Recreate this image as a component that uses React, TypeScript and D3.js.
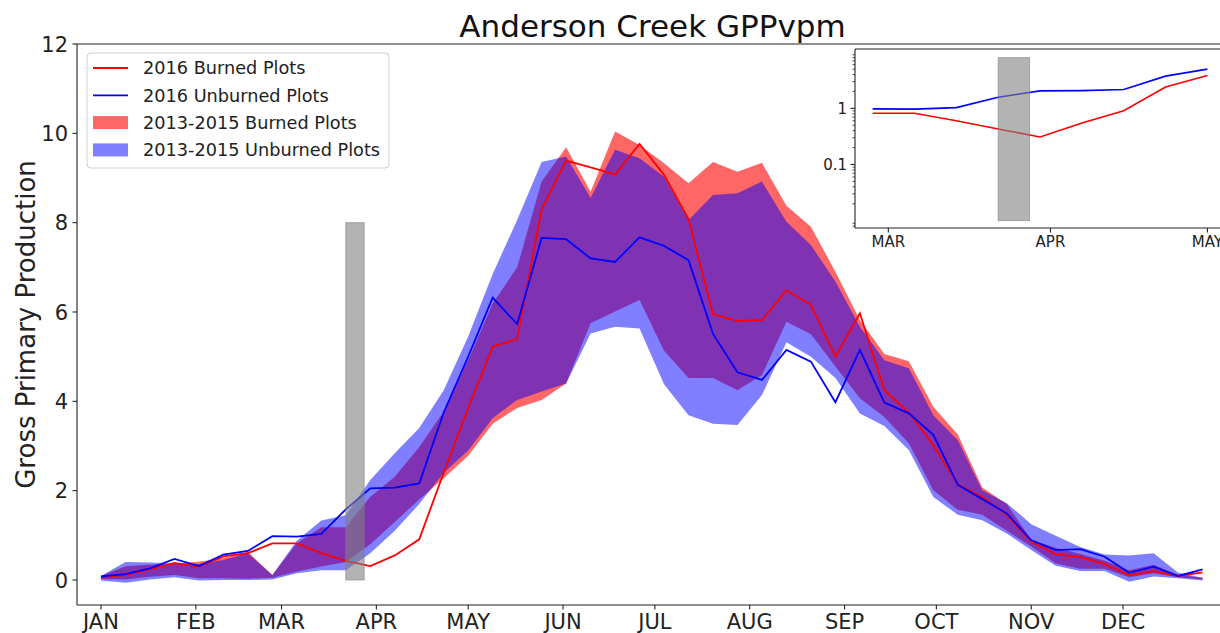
import React from "react";
import * as d3 from "d3";

// ---- data (8-day composites, day of year) ----
const DOY = [1, 9, 17, 25, 33, 41, 49, 57, 65, 73, 81, 89, 97, 105, 113, 121, 129, 137, 145, 153, 161, 169, 177, 185, 193, 201, 209, 217, 225, 233, 241, 249, 257, 265, 273, 281, 289, 297, 305, 313, 321, 329, 337, 345, 353, 361];

const BURNED_2016 = [
  0.06, 0.11, 0.24, 0.38, 0.30, 0.53, 0.60, 0.82, 0.82, 0.60,
  0.43, 0.31, 0.55, 0.91, 2.40, 3.85, 5.22, 5.40, 8.30, 9.39,
  9.24, 9.08, 9.76, 9.07, 8.08, 5.95, 5.80, 5.82, 6.49, 6.16,
  5.00, 5.97, 4.25, 3.75, 3.02, 2.14, 1.86, 1.46, 0.86, 0.58,
  0.51, 0.36, 0.11, 0.20, 0.09, 0.17,
];
const UNBURNED_2016 = [
  0.08, 0.13, 0.26, 0.47, 0.31, 0.57, 0.65, 0.98, 0.97, 1.03,
  1.58, 2.05, 2.07, 2.16, 3.75, 5.00, 6.32, 5.73, 7.66, 7.63,
  7.20, 7.12, 7.67, 7.48, 7.16, 5.51, 4.65, 4.48, 5.15, 4.89,
  3.98, 5.15, 3.97, 3.73, 3.25, 2.13, 1.81, 1.49, 0.89, 0.67,
  0.69, 0.52, 0.16, 0.30, 0.09, 0.24,
];
const BURNED_MAX = [
  0.09, 0.31, 0.34, 0.37, 0.41, 0.49, 0.63, 0.11, 0.82, 1.18,
  1.18, 1.86, 2.31, 2.98, 3.77, 4.92, 6.19, 7.00, 8.92, 9.69,
  8.69, 10.04, 9.74, 9.33, 8.88, 9.36, 9.14, 9.34, 8.38, 7.91,
  6.90, 5.82, 5.06, 4.90, 3.88, 3.26, 2.07, 1.70, 0.90, 0.72,
  0.58, 0.43, 0.22, 0.34, 0.11, 0.05,
];
const BURNED_MIN = [
  0.02, 0.01, 0.07, 0.11, 0.04, 0.04, 0.03, 0.05, 0.19, 0.30,
  0.40, 0.80, 1.30, 1.80, 2.28, 2.78, 3.50, 3.85, 4.03, 4.40,
  5.75, 6.01, 6.27, 5.13, 4.52, 4.52, 4.25, 4.59, 5.78, 5.50,
  4.78, 4.07, 3.65, 3.06, 2.01, 1.57, 1.46, 1.10, 0.75, 0.37,
  0.25, 0.25, 0.06, 0.15, 0.06, 0.01,
];
const UNBURNED_MAX = [
  0.09, 0.40, 0.39, 0.37, 0.36, 0.45, 0.60, 0.11, 0.88, 1.33,
  1.45, 2.24, 2.84, 3.40, 4.25, 5.45, 6.85, 8.06, 9.36, 9.48,
  8.55, 9.63, 9.44, 9.03, 8.06, 8.62, 8.66, 8.92, 8.02, 7.50,
  6.68, 5.67, 4.92, 4.74, 3.69, 3.13, 2.01, 1.72, 1.25, 0.99,
  0.74, 0.57, 0.55, 0.60, 0.16, 0.05,
];
const UNBURNED_MIN = [
  -0.01, -0.06, 0.01, 0.06, -0.01, 0.00, 0.00, 0.01, 0.15, 0.22,
  0.22, 0.60, 1.10, 1.70, 2.40, 2.90, 3.62, 4.03, 4.22, 4.40,
  5.52, 5.67, 5.63, 4.38, 3.69, 3.50, 3.47, 4.14, 5.32, 5.00,
  4.52, 3.73, 3.45, 2.91, 1.86, 1.46, 1.34, 1.04, 0.67, 0.32,
  0.20, 0.20, -0.04, 0.08, 0.04, -0.01,
];

const MONTHS = ["JAN", "FEB", "MAR", "APR", "MAY", "JUN", "JUL", "AUG", "SEP", "OCT", "NOV", "DEC"];
const MONTH_START = [1, 32, 60, 91, 121, 152, 182, 213, 244, 274, 305, 335];
const Y_TICKS = [0, 2, 4, 6, 8, 10, 12];

const INSET_MONTHS = ["MAR", "APR", "MAY"];
const INSET_MONTH_START = [60, 91, 121];
const INSET_Y_TICKS = [0.1, 1];
const INSET_Y_LABELS = ["0.1", "1"];
const INSET_FIRST_DOY = 57;
const INSET_LAST_DOY = 121;

const BURN_START = 81;
const BURN_END = 87;
const BURN_TOP = 8;
const INSET_BAR_BOTTOM = 0.01;

const LEGEND = [
  { label: "2016 Burned Plots", kind: "line", color: "#ff0000" },
  { label: "2016 Unburned Plots", kind: "line", color: "#0000ff" },
  { label: "2013-2015 Burned Plots", kind: "patch", color: "#ff0000", alpha: 0.6 },
  { label: "2013-2015 Unburned Plots", kind: "patch", color: "#0000ff", alpha: 0.5 },
];

const FONT = "DejaVu Sans, sans-serif";

export default function App() {
  const W = 1220, H = 633;
  const L = 77, T = 44, B = 605, R = 1228;
  const x = d3.scaleLinear().domain([-6.84, 369.3]).range([L, R]);
  const y = d3.scaleLinear().domain([-0.56, 12]).range([B, T]);

  const idx = DOY.map((_, i) => i);
  const area = (lo: number[], hi: number[]) =>
    d3.area<number>().x((i) => x(DOY[i])).y0((i) => y(lo[i])).y1((i) => y(hi[i]))(idx) || "";
  const line = (v: number[]) => d3.line<number>().x((i) => x(DOY[i])).y((i) => y(v[i]))(idx) || "";

  // inset
  const IL = 855, IT = 49, IB = 228, IR = 1232;
  const ix = d3.scaleLinear().domain([53.63, 125.7]).range([IL, IR]);
  const iy = d3.scaleLog().domain([0.0074, 11.4]).range([IB, IT]);
  const inIdx = idx.filter((i) => DOY[i] >= INSET_FIRST_DOY && DOY[i] <= INSET_LAST_DOY);
  const iline = (v: number[]) => d3.line<number>().x((i) => ix(DOY[i])).y((i) => iy(v[i]))(inIdx) || "";
  const minorTicks: number[] = [];
  [0.001, 0.01, 0.1, 1].forEach((d) => {
    for (let m = 2; m <= 9; m++) {
      const v = d * m;
      if (v >= 0.0074 && v <= 11.4) minorTicks.push(v);
    }
  });

  return (
    <div style={{ position: "absolute", left: 0, top: 0 }}>
      <svg width={W} height={H} style={{ display: "block", background: "#fff" }} fontFamily={FONT}>
        <defs>
          <clipPath id="mainclip">
            <rect x={L} y={T} width={R - L} height={B - T} />
          </clipPath>
          <clipPath id="insetclip">
            <rect x={IL} y={IT} width={IR - IL} height={IB - IT} />
          </clipPath>
        </defs>

        <g clipPath="url(#mainclip)">
          <path d={area(BURNED_MIN, BURNED_MAX)} fill="#ff0000" fillOpacity={0.6} stroke="none" />
          <path d={area(UNBURNED_MIN, UNBURNED_MAX)} fill="#0000ff" fillOpacity={0.5} stroke="none" />
          <path d={line(BURNED_2016)} fill="none" stroke="#ff0000" strokeWidth={1.8} />
          <path d={line(UNBURNED_2016)} fill="none" stroke="#0000ff" strokeWidth={1.8} />
          <rect
            x={x(BURN_START)} y={y(BURN_TOP)}
            width={x(BURN_END) - x(BURN_START)} height={y(0) - y(BURN_TOP)}
            fill="#808080" fillOpacity={0.6} stroke="#808080" strokeOpacity={0.6} strokeWidth={1}
          />
        </g>

        {/* spines */}
        <g stroke="#222" strokeWidth={1.1} fill="none">
          <line x1={L} y1={T} x2={L} y2={B} />
          <line x1={L} y1={B} x2={R} y2={B} />
          <line x1={L} y1={T} x2={R} y2={T} />
        </g>

        {/* y ticks */}
        {Y_TICKS.map((t) => (
          <g key={"y" + t}>
            <line x1={L - 4.5} x2={L} y1={y(t)} y2={y(t)} stroke="#222" strokeWidth={1.1} />
            <text x={L - 9} y={y(t)} dy="0.36em" textAnchor="end" fontSize={21} fill="#222">{t}</text>
          </g>
        ))}
        {/* x ticks */}
        {MONTHS.map((m, i) => (
          <g key={m}>
            <line x1={x(MONTH_START[i])} x2={x(MONTH_START[i])} y1={B} y2={B + 4.5} stroke="#222" strokeWidth={1.1} />
            <text x={x(MONTH_START[i])} y={B + 23.5} textAnchor="middle" fontSize={21} fill="#222">{m}</text>
          </g>
        ))}

        {/* title & y label */}
        <text x={(L + R) / 2} y={37} textAnchor="middle" fontSize={31} fill="#111">Anderson Creek GPPvpm</text>
        <text transform={`translate(35,${(T + B) / 2}) rotate(-90)`} textAnchor="middle" fontSize={26} fill="#222">
          Gross Primary Production
        </text>

        {/* legend */}
        <g>
          <rect x={87} y={53} width={302} height={115} rx={4} fill="#fff" fillOpacity={0.8} stroke="#d0d0d0" strokeWidth={1} />
          {LEGEND.map((e, i) => {
            const cy = 68 + i * 27.3;
            return (
              <g key={e.label}>
                {e.kind === "line" ? (
                  <line x1={93} x2={128} y1={cy} y2={cy} stroke={e.color} strokeWidth={1.8} />
                ) : (
                  <rect x={93} y={cy - 6.5} width={35} height={13} fill={e.color} fillOpacity={e.alpha} />
                )}
                <text x={143} y={cy} dy="0.36em" fontSize={17.7} fill="#222">{e.label}</text>
              </g>
            );
          })}
        </g>

        {/* inset */}
        <g>
          <rect x={IL} y={IT} width={IR - IL} height={IB - IT} fill="#fff" />
          <g clipPath="url(#insetclip)">
            <path d={iline(BURNED_2016)} fill="none" stroke="#ff0000" strokeWidth={1.6} />
            <path d={iline(UNBURNED_2016)} fill="none" stroke="#0000ff" strokeWidth={1.6} />
            <rect
              x={ix(BURN_START)} y={iy(BURN_TOP)}
              width={ix(BURN_END) - ix(BURN_START)} height={iy(INSET_BAR_BOTTOM) - iy(BURN_TOP)}
              fill="#808080" fillOpacity={0.6} stroke="#808080" strokeOpacity={0.6} strokeWidth={1}
            />
          </g>
          <g stroke="#222" strokeWidth={1.1} fill="none">
            <line x1={IL} y1={IT} x2={IL} y2={IB} />
            <line x1={IL} y1={IB} x2={IR} y2={IB} />
            <line x1={IL} y1={IT} x2={IR} y2={IT} />
          </g>
          {minorTicks.map((v) => (
            <line key={"m" + v} x1={IL - 2.5} x2={IL} y1={iy(v)} y2={iy(v)} stroke="#222" strokeWidth={0.8} />
          ))}
          {INSET_Y_TICKS.map((v, i) => (
            <g key={"iy" + v}>
              <line x1={IL - 4.5} x2={IL} y1={iy(v)} y2={iy(v)} stroke="#222" strokeWidth={1.1} />
              <text x={IL - 8} y={iy(v)} dy="0.36em" textAnchor="end" fontSize={15} fill="#222">{INSET_Y_LABELS[i]}</text>
            </g>
          ))}
          {INSET_MONTHS.map((m, i) => (
            <g key={"ix" + m}>
              <line x1={ix(INSET_MONTH_START[i])} x2={ix(INSET_MONTH_START[i])} y1={IB} y2={IB + 4.5} stroke="#222" strokeWidth={1.1} />
              <text x={ix(INSET_MONTH_START[i])} y={IB + 19} textAnchor="middle" fontSize={15} fill="#222">{m}</text>
            </g>
          ))}
        </g>
      </svg>
    </div>
  );
}
